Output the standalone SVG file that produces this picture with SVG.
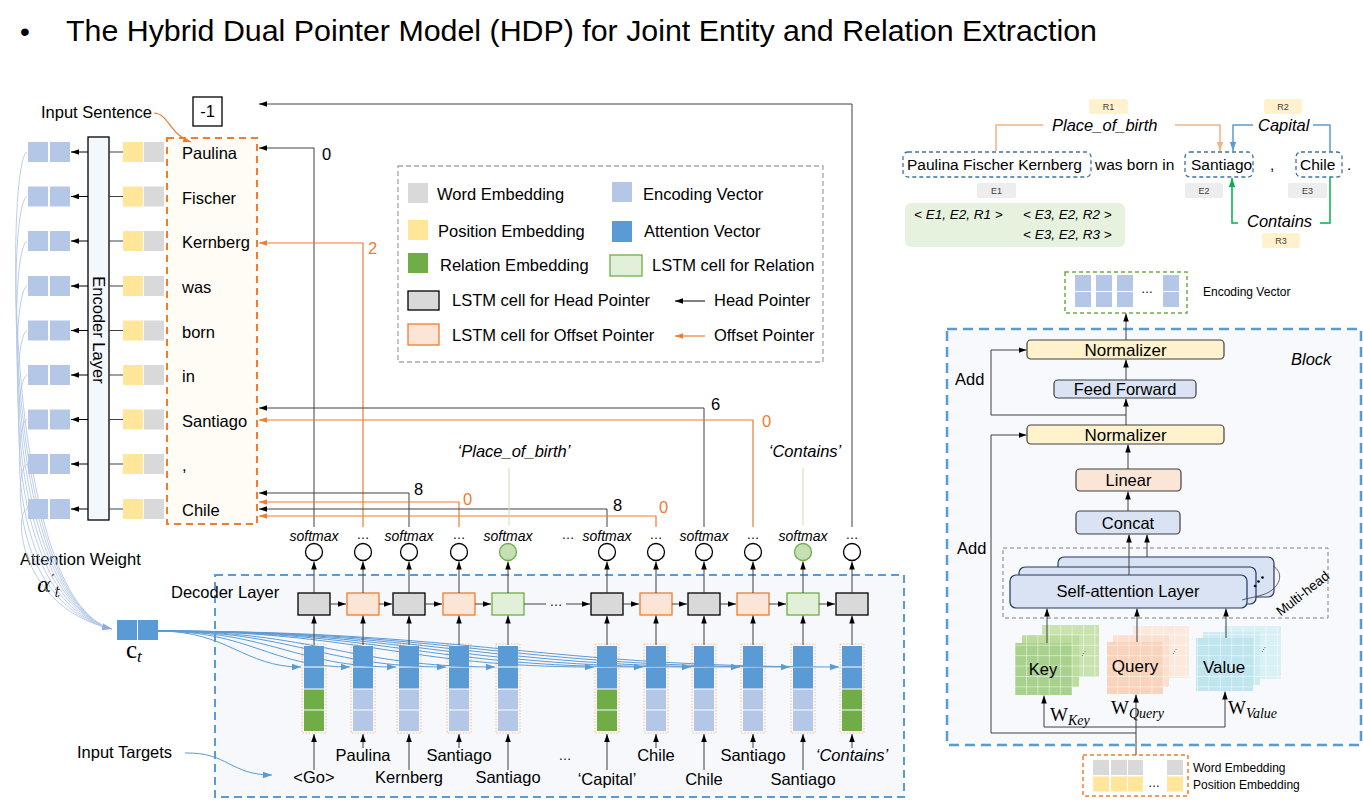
<svg xmlns="http://www.w3.org/2000/svg" width="1363" height="803" viewBox="0 0 1363 803">
<style>
text{font-family:"Liberation Sans",Arial,sans-serif;fill:#000}
.f16{font-size:16.5px}
.f14{font-size:14px}
.f13{font-size:13.5px}
.f12{font-size:12px}
.f9{font-size:9px;fill:#404040}
.it{font-style:italic}
.mid{text-anchor:middle}
.serif{font-family:"Liberation Serif","DejaVu Serif",serif}
.dserif{font-family:"DejaVu Serif","Liberation Serif",serif}
.sm{font-size:14px;font-style:italic;text-anchor:middle}
.dots{font-size:13px;text-anchor:middle}
.in{font-size:16.5px;text-anchor:middle}
.k{stroke:#000;stroke-width:1;fill:none}
.kg{stroke:#404040;stroke-width:1;fill:none}
.o{stroke:#ed7d31;stroke-width:1.2;fill:none}
.enc{fill:#b4c7e7}
.att{fill:#5b9bd5}
.pos{fill:#ffe699}
.wrd{fill:#d9d9d9}
.rel{fill:#70ad47}
.ch{fill:#d9d9d9;stroke:#000;stroke-width:1.3}
.co{fill:#fbe5d6;stroke:#ed7d31;stroke-width:1.3}
.cg{fill:#e2f0d9;stroke:#70ad47;stroke-width:1.3}
.circ{fill:#fff;stroke:#000;stroke-width:1.3}
.circg{fill:#c5e0b4;stroke:#70ad47;stroke-width:1.3}
.sep{stroke:#fff;stroke-width:1.2;fill:none}
.dot{fill:none;stroke:#f4b183;stroke-width:0.8;stroke-dasharray:1.5 1.5}
.bx{stroke:#404040;stroke-width:1.2}
.ebox{fill:#ededed}
.rbox{fill:#fff2cc}
.ent{fill:none;stroke:#41719c;stroke-width:1.3;stroke-dasharray:4 3}
.att-c{fill:none;stroke:#b4c7e7;stroke-width:0.9}
.ctx-c{fill:none;stroke:#5b9bd5;stroke-width:1}
.s15{font-size:15.5px}
</style>
<defs>
<marker id="ak" viewBox="0 0 10 10" refX="10" refY="5" markerWidth="8" markerHeight="8" markerUnits="userSpaceOnUse" orient="auto"><path d="M0,1.5L10,5L0,8.5z" fill="#000"/></marker>
<marker id="ao" viewBox="0 0 10 10" refX="10" refY="5" markerWidth="8" markerHeight="8" markerUnits="userSpaceOnUse" orient="auto"><path d="M0,1.5L10,5L0,8.5z" fill="#ed7d31"/></marker>
<marker id="ao2" viewBox="0 0 10 10" refX="10" refY="5" markerWidth="9" markerHeight="9" markerUnits="userSpaceOnUse" orient="auto"><path d="M0,1.5L10,5L0,8.5z" fill="#f4b183"/></marker>
<marker id="ab" viewBox="0 0 10 10" refX="10" refY="5" markerWidth="9" markerHeight="9" markerUnits="userSpaceOnUse" orient="auto"><path d="M0,1.5L10,5L0,8.5z" fill="#5b9bd5"/></marker>
<marker id="al" viewBox="0 0 10 10" refX="10" refY="5" markerWidth="10" markerHeight="10" markerUnits="userSpaceOnUse" orient="auto"><path d="M0,1.5L10,5L0,8.5z" fill="#8faadc"/></marker>
<marker id="ag" viewBox="0 0 10 10" refX="10" refY="5" markerWidth="9" markerHeight="9" markerUnits="userSpaceOnUse" orient="auto"><path d="M0,1.5L10,5L0,8.5z" fill="#00b050"/></marker>
<pattern id="grid" width="11.4" height="10.4" patternUnits="userSpaceOnUse"><path d="M0,0H11.4M0,0V10.4" stroke="#fff" stroke-width="0.9" fill="none"/></pattern>
</defs>

<rect width="1363" height="803" fill="#fff"/>

<g id="title">
<text x="20" y="41" style="font-size:28px">•</text>
<text x="66" y="41" style="font-size:30px" textLength="1031" lengthAdjust="spacingAndGlyphs">The Hybrid Dual Pointer Model (HDP) for Joint Entity and Relation Extraction</text>
</g>

<g id="decoder-layer">
<rect x="215" y="575" width="689" height="222" fill="#f6f8fc" stroke="#5b9bd5" stroke-width="2" stroke-dasharray="8 5"/>
<text x="171" y="598" class="f16">Decoder Layer</text>
</g>

<g id="input-sentence">
<rect x="167" y="138" width="90" height="386" fill="#fffbf5" stroke="#ed7d31" stroke-width="2" stroke-dasharray="7 5"/>
<text x="41" y="118" class="f16">Input Sentence</text>
<text x="182" y="159" class="f16">Paulina</text>
<text x="182" y="203.5" class="f16">Fischer</text>
<text x="182" y="248" class="f16">Kernberg</text>
<text x="182" y="293" class="f16">was</text>
<text x="182" y="337.5" class="f16">born</text>
<text x="182" y="382" class="f16">in</text>
<text x="182" y="426.5" class="f16">Santiago</text>
<text x="182" y="471" class="f16">,</text>
<text x="182" y="516" class="f16">Chile</text>
</g>

<g id="minus-one">
<rect x="193" y="97" width="29" height="29" fill="#fff" stroke="#000" stroke-width="1.3"/>
<text x="207.5" y="117" class="f16 mid">-1</text>
</g>

<g id="encoder-layer">
<rect x="88" y="137" width="21" height="383" fill="#f4f7fc" stroke="#000" stroke-width="1.3"/>
<text x="98.5" y="336" class="f16 mid" transform="rotate(90 98.5 330)">Encoder Layer</text>
</g>

<g id="encoding-vectors">
<rect x="28" y="142" width="20" height="20" class="enc"/><rect x="50" y="142" width="20" height="20" class="enc"/>
<rect x="28" y="186.5" width="20" height="20" class="enc"/><rect x="50" y="186.5" width="20" height="20" class="enc"/>
<rect x="28" y="231" width="20" height="20" class="enc"/><rect x="50" y="231" width="20" height="20" class="enc"/>
<rect x="28" y="276" width="20" height="20" class="enc"/><rect x="50" y="276" width="20" height="20" class="enc"/>
<rect x="28" y="320.5" width="20" height="20" class="enc"/><rect x="50" y="320.5" width="20" height="20" class="enc"/>
<rect x="28" y="365" width="20" height="20" class="enc"/><rect x="50" y="365" width="20" height="20" class="enc"/>
<rect x="28" y="409.5" width="20" height="20" class="enc"/><rect x="50" y="409.5" width="20" height="20" class="enc"/>
<rect x="28" y="454" width="20" height="20" class="enc"/><rect x="50" y="454" width="20" height="20" class="enc"/>
<rect x="28" y="499" width="20" height="20" class="enc"/><rect x="50" y="499" width="20" height="20" class="enc"/>
</g>

<g id="input-embeddings">
<rect x="123" y="142" width="20" height="20" class="pos"/><rect x="144" y="142" width="20" height="20" class="wrd"/>
<rect x="123" y="186.5" width="20" height="20" class="pos"/><rect x="144" y="186.5" width="20" height="20" class="wrd"/>
<rect x="123" y="231" width="20" height="20" class="pos"/><rect x="144" y="231" width="20" height="20" class="wrd"/>
<rect x="123" y="276" width="20" height="20" class="pos"/><rect x="144" y="276" width="20" height="20" class="wrd"/>
<rect x="123" y="320.5" width="20" height="20" class="pos"/><rect x="144" y="320.5" width="20" height="20" class="wrd"/>
<rect x="123" y="365" width="20" height="20" class="pos"/><rect x="144" y="365" width="20" height="20" class="wrd"/>
<rect x="123" y="409.5" width="20" height="20" class="pos"/><rect x="144" y="409.5" width="20" height="20" class="wrd"/>
<rect x="123" y="454" width="20" height="20" class="pos"/><rect x="144" y="454" width="20" height="20" class="wrd"/>
<rect x="123" y="499" width="20" height="20" class="pos"/><rect x="144" y="499" width="20" height="20" class="wrd"/>
</g>

<g id="context-vector">
<rect x="117" y="620" width="20" height="20" class="att"/><rect x="138" y="620" width="20" height="20" class="att"/>
<text x="126" y="658" class="serif" style="font-size:25px">c<tspan class="it" style="font-size:17px" dy="4">t</tspan></text>
<text x="20" y="565" class="f16">Attention Weight</text>
<text x="37" y="592" class="dserif it" style="font-size:21px">α<tspan style="font-size:15px;font-style:normal" dy="-7">′</tspan><tspan style="font-size:14px" dy="12">t</tspan></text>
<text x="77" y="758" class="f16">Input Targets</text>
</g>

<g id="legend">
<rect x="398" y="166" width="425" height="196" fill="#fff" stroke="#a6a6a6" stroke-width="1.3" stroke-dasharray="5 3"/>
<rect x="408" y="183" width="20" height="20" class="wrd"/><text x="437" y="200" class="f16">Word Embedding</text>
<rect x="612" y="182" width="20" height="20" class="enc"/><text x="643" y="200" class="f16">Encoding Vector</text>
<rect x="408" y="220" width="20" height="20" class="pos"/><text x="438" y="237" class="f16">Position Embedding</text>
<rect x="612" y="221" width="20" height="21" class="att"/><text x="644" y="237" class="f16">Attention Vector</text>
<rect x="408" y="253" width="20" height="20" class="rel"/><text x="440" y="271" class="f16">Relation Embedding</text>
<rect x="610" y="255" width="32" height="21" class="cg"/><text x="652" y="271" class="f16">LSTM cell for Relation</text>
<rect x="408" y="291" width="31" height="19" class="ch"/><text x="452" y="306" class="f16">LSTM cell for Head Pointer</text>
<path d="M705,301H675" class="k" marker-end="url(#ak)"/><text x="714" y="306" class="f16">Head Pointer</text>
<rect x="408" y="324" width="31" height="21" class="co"/><text x="452" y="341" class="f16">LSTM cell for Offset Pointer</text>
<path d="M705,336H675" class="o" marker-end="url(#ao)"/><text x="714" y="341" class="f16">Offset Pointer</text>
</g>

<g id="step1">
<text x="314" y="541" class="sm">softmax</text>
<circle cx="314" cy="552" r="8.5" class="circ"/>
<rect x="298" y="593" width="32" height="22" class="ch"/>
<rect x="302" y="644" width="24" height="89" class="dot"/>
<rect x="304" y="646" width="20" height="43" class="att"/><rect x="304" y="689" width="20" height="42" class="rel"/>
<path d="M304,667H324M304,689H324M304,710H324" class="sep"/>
<text x="314" y="783" class="in">&lt;Go&gt;</text>
</g>
<g id="step2">
<text x="363" y="539" class="dots">…</text>
<circle cx="363" cy="552" r="8.5" class="circ"/>
<rect x="347" y="593" width="32" height="22" class="co"/>
<rect x="351" y="644" width="24" height="89" class="dot"/>
<rect x="353" y="646" width="20" height="43" class="att"/><rect x="353" y="689" width="20" height="42" class="enc"/>
<path d="M353,667H373M353,689H373M353,710H373" class="sep"/>
<text x="363" y="761" class="in">Paulina</text>
</g>
<g id="step3">
<text x="409" y="541" class="sm">softmax</text>
<circle cx="409" cy="552" r="8.5" class="circ"/>
<rect x="393" y="593" width="32" height="22" class="ch"/>
<rect x="397" y="644" width="24" height="89" class="dot"/>
<rect x="399" y="646" width="20" height="43" class="att"/><rect x="399" y="689" width="20" height="42" class="enc"/>
<path d="M399,667H419M399,689H419M399,710H419" class="sep"/>
<text x="409" y="783" class="in">Kernberg</text>
</g>
<g id="step4">
<text x="459" y="539" class="dots">…</text>
<circle cx="459" cy="552" r="8.5" class="circ"/>
<rect x="443" y="593" width="32" height="22" class="co"/>
<rect x="447" y="644" width="24" height="89" class="dot"/>
<rect x="449" y="646" width="20" height="43" class="att"/><rect x="449" y="689" width="20" height="42" class="enc"/>
<path d="M449,667H469M449,689H469M449,710H469" class="sep"/>
<text x="459" y="761" class="in">Santiago</text>
</g>
<g id="step5">
<text x="508" y="541" class="sm">softmax</text>
<circle cx="508" cy="552" r="8.5" class="circg"/>
<rect x="492" y="593" width="32" height="22" class="cg"/>
<rect x="496" y="644" width="24" height="89" class="dot"/>
<rect x="498" y="646" width="20" height="43" class="att"/><rect x="498" y="689" width="20" height="42" class="enc"/>
<path d="M498,667H518M498,689H518M498,710H518" class="sep"/>
<text x="508" y="783" class="in">Santiago</text>
</g>
<g id="gap">
<text x="556" y="606" class="dots">…</text>
<text x="568" y="539" class="dots">…</text>
<text x="565" y="760" class="dots">…</text>
</g>
<g id="step6">
<text x="607" y="541" class="sm">softmax</text>
<circle cx="607" cy="552" r="8.5" class="circ"/>
<rect x="591" y="593" width="32" height="22" class="ch"/>
<rect x="595" y="644" width="24" height="89" class="dot"/>
<rect x="597" y="646" width="20" height="43" class="att"/><rect x="597" y="689" width="20" height="42" class="rel"/>
<path d="M597,667H617M597,689H617M597,710H617" class="sep"/>
<text x="607" y="785" class="in">‘Capital’</text>
</g>
<g id="step7">
<text x="656" y="539" class="dots">…</text>
<circle cx="656" cy="552" r="8.5" class="circ"/>
<rect x="640" y="593" width="32" height="22" class="co"/>
<rect x="644" y="644" width="24" height="89" class="dot"/>
<rect x="646" y="646" width="20" height="43" class="att"/><rect x="646" y="689" width="20" height="42" class="enc"/>
<path d="M646,667H666M646,689H666M646,710H666" class="sep"/>
<text x="656" y="761" class="in">Chile</text>
</g>
<g id="step8">
<text x="704" y="541" class="sm">softmax</text>
<circle cx="704" cy="552" r="8.5" class="circ"/>
<rect x="688" y="593" width="32" height="22" class="ch"/>
<rect x="692" y="644" width="24" height="89" class="dot"/>
<rect x="694" y="646" width="20" height="43" class="att"/><rect x="694" y="689" width="20" height="42" class="enc"/>
<path d="M694,667H714M694,689H714M694,710H714" class="sep"/>
<text x="704" y="785" class="in">Chile</text>
</g>
<g id="step9">
<text x="753" y="539" class="dots">…</text>
<circle cx="753" cy="552" r="8.5" class="circ"/>
<rect x="737" y="593" width="32" height="22" class="co"/>
<rect x="741" y="644" width="24" height="89" class="dot"/>
<rect x="743" y="646" width="20" height="43" class="att"/><rect x="743" y="689" width="20" height="42" class="enc"/>
<path d="M743,667H763M743,689H763M743,710H763" class="sep"/>
<text x="753" y="761" class="in">Santiago</text>
</g>
<g id="step10">
<text x="803" y="541" class="sm">softmax</text>
<circle cx="803" cy="552" r="8.5" class="circg"/>
<rect x="787" y="593" width="32" height="22" class="cg"/>
<rect x="791" y="644" width="24" height="89" class="dot"/>
<rect x="793" y="646" width="20" height="43" class="att"/><rect x="793" y="689" width="20" height="42" class="enc"/>
<path d="M793,667H813M793,689H813M793,710H813" class="sep"/>
<text x="803" y="785" class="in">Santiago</text>
</g>
<g id="step11">
<text x="852" y="539" class="dots">…</text>
<circle cx="852" cy="552" r="8.5" class="circ"/>
<rect x="836" y="593" width="32" height="22" class="ch"/>
<rect x="840" y="644" width="24" height="89" class="dot"/>
<rect x="842" y="646" width="20" height="43" class="att"/><rect x="842" y="689" width="20" height="42" class="rel"/>
<path d="M842,667H862M842,689H862M842,710H862" class="sep"/>
<text x="852" y="761" class="in it">‘Contains’</text>
</g>

<g id="relation-labels">
<text x="514" y="457" class="f16 it mid">‘Place_of_birth’</text>
<text x="805" y="457" class="f16 it mid">‘Contains’</text>
</g>

<g id="connectors">
<path d="M88,152H71" class="k" marker-end="url(#ak)"/>
<path d="M88,196.5H71" class="k" marker-end="url(#ak)"/>
<path d="M88,241H71" class="k" marker-end="url(#ak)"/>
<path d="M88,286H71" class="k" marker-end="url(#ak)"/>
<path d="M88,330.5H71" class="k" marker-end="url(#ak)"/>
<path d="M88,375H71" class="k" marker-end="url(#ak)"/>
<path d="M88,419.5H71" class="k" marker-end="url(#ak)"/>
<path d="M88,464H71" class="k" marker-end="url(#ak)"/>
<path d="M88,509H71" class="k" marker-end="url(#ak)"/>
<path d="M109,152H123M109,196.5H123M109,241H123M109,286H123M109,330.5H123M109,375H123M109,419.5H123M109,464H123M109,509H123" class="kg"/>
<path d="M154,113C168,113 170,135 191,142" class="o" marker-end="url(#ao)"/>
<path d="M27,152C6,160 4,600 112,629" class="att-c"/>
<path d="M27,196.5C6,204 5,600 112,629" class="att-c"/>
<path d="M27,241C7,248 6,600 112,629" class="att-c"/>
<path d="M27,286C8,293 7,600 112,629" class="att-c"/>
<path d="M27,330.5C9,337 8,600 112,629" class="att-c"/>
<path d="M27,375C10,381 10,602 112,629" class="att-c"/>
<path d="M27,419.5C11,425 12,604 112,629" class="att-c"/>
<path d="M27,464C12,469 15,606 112,629" class="att-c"/>
<path d="M27,509C13,513 20,608 112,629" class="att-c" marker-end="url(#al)"/>
<path d="M158,631C228,631 244,667 301,667" class="ctx-c" marker-end="url(#ab)"/>
<path d="M158,631C250,631 271,667 350,667" class="ctx-c" marker-end="url(#ab)"/>
<path d="M158,631C271,631 296,667 396,667" class="ctx-c" marker-end="url(#ab)"/>
<path d="M158,631C293,631 324,667 446,667" class="ctx-c" marker-end="url(#ab)"/>
<path d="M158,631C315,631 350,667 495,667" class="ctx-c" marker-end="url(#ab)"/>
<path d="M158,631C360,631 405,667 594,667" class="ctx-c" marker-end="url(#ab)"/>
<path d="M158,631C382,631 432,667 643,667" class="ctx-c" marker-end="url(#ab)"/>
<path d="M158,631C404,631 458,667 691,667" class="ctx-c" marker-end="url(#ab)"/>
<path d="M158,631C426,631 485,667 740,667" class="ctx-c" marker-end="url(#ab)"/>
<path d="M158,631C448,631 513,667 790,667" class="ctx-c" marker-end="url(#ab)"/>
<path d="M158,631C470,631 540,667 839,667" class="ctx-c" marker-end="url(#ab)"/>
<path d="M185,753C228,752 230,775 272,775" class="ctx-c" marker-end="url(#ab)"/>
<path d="M314,645V615.5" class="kg" marker-end="url(#ak)"/>
<path d="M363,645V615.5" class="kg" marker-end="url(#ak)"/>
<path d="M409,645V615.5" class="kg" marker-end="url(#ak)"/>
<path d="M459,645V615.5" class="kg" marker-end="url(#ak)"/>
<path d="M508,645V615.5" class="kg" marker-end="url(#ak)"/>
<path d="M607,645V615.5" class="kg" marker-end="url(#ak)"/>
<path d="M656,645V615.5" class="kg" marker-end="url(#ak)"/>
<path d="M704,645V615.5" class="kg" marker-end="url(#ak)"/>
<path d="M753,645V615.5" class="kg" marker-end="url(#ak)"/>
<path d="M803,645V615.5" class="kg" marker-end="url(#ak)"/>
<path d="M852,645V615.5" class="kg" marker-end="url(#ak)"/>
<path d="M314,593V561.5" class="kg" marker-end="url(#ak)"/>
<path d="M363,593V561.5" class="kg" marker-end="url(#ak)"/>
<path d="M409,593V561.5" class="kg" marker-end="url(#ak)"/>
<path d="M459,593V561.5" class="kg" marker-end="url(#ak)"/>
<path d="M508,593V561.5" class="kg" marker-end="url(#ak)"/>
<path d="M607,593V561.5" class="kg" marker-end="url(#ak)"/>
<path d="M656,593V561.5" class="kg" marker-end="url(#ak)"/>
<path d="M704,593V561.5" class="kg" marker-end="url(#ak)"/>
<path d="M753,593V561.5" class="kg" marker-end="url(#ak)"/>
<path d="M803,593V561.5" class="kg" marker-end="url(#ak)"/>
<path d="M852,593V561.5" class="kg" marker-end="url(#ak)"/>
<path d="M330,604H346" class="kg" marker-end="url(#ak)"/>
<path d="M379,604H392" class="kg" marker-end="url(#ak)"/>
<path d="M425,604H442" class="kg" marker-end="url(#ak)"/>
<path d="M475,604H491" class="kg" marker-end="url(#ak)"/>
<path d="M524,604H546" class="kg"/>
<path d="M566,604H590" class="kg" marker-end="url(#ak)"/>
<path d="M623,604H639" class="kg" marker-end="url(#ak)"/>
<path d="M672,604H687" class="kg" marker-end="url(#ak)"/>
<path d="M720,604H736" class="kg" marker-end="url(#ak)"/>
<path d="M769,604H786" class="kg" marker-end="url(#ak)"/>
<path d="M819,604H835" class="kg" marker-end="url(#ak)"/>
<path d="M314,770V734" class="kg" marker-end="url(#ak)"/>
<path d="M363,748V734" class="kg" marker-end="url(#ak)"/>
<path d="M409,770V734" class="kg" marker-end="url(#ak)"/>
<path d="M459,748V734" class="kg" marker-end="url(#ak)"/>
<path d="M508,770V734" class="kg" marker-end="url(#ak)"/>
<path d="M607,770V734" class="kg" marker-end="url(#ak)"/>
<path d="M656,748V734" class="kg" marker-end="url(#ak)"/>
<path d="M704,770V734" class="kg" marker-end="url(#ak)"/>
<path d="M753,748V734" class="kg" marker-end="url(#ak)"/>
<path d="M803,770V734" class="kg" marker-end="url(#ak)"/>
<path d="M852,748V734" class="kg" marker-end="url(#ak)"/>
<path d="M852,527V104H259" class="kg" marker-end="url(#ak)"/>
<path d="M314,527V148H259" class="kg" marker-end="url(#ak)"/>
<path d="M363,527V243H259" class="o" marker-end="url(#ao)"/>
<path d="M704,527V408H259" class="kg" marker-end="url(#ak)"/>
<path d="M753,527V420H259" class="o" marker-end="url(#ao)"/>
<path d="M409,527V493H259" class="kg" marker-end="url(#ak)"/>
<path d="M459,527V502H259" class="o" marker-end="url(#ao)"/>
<path d="M607,527V509H259" class="kg" marker-end="url(#ak)"/>
<path d="M656,527V516H259" class="o" marker-end="url(#ao)"/>
<path d="M509,525V468M803,525V468" fill="none" stroke="#c5e0b4" stroke-width="1"/>
</g>

<g id="pointer-labels">
<text x="322" y="160" class="f16">0</text>
<text x="368" y="254" class="f16" style="fill:#ed7d31">2</text>
<text x="711" y="410" class="f16">6</text>
<text x="762" y="427" class="f16" style="fill:#ed7d31">0</text>
<text x="414" y="495" class="f16">8</text>
<text x="463" y="505" class="f16" style="fill:#ed7d31">0</text>
<text x="613" y="511" class="f16">8</text>
<text x="659" y="513" class="f16" style="fill:#ed7d31">0</text>
</g>

<g id="example">
<rect x="1089" y="99" width="39" height="15" rx="2" class="rbox"/><text x="1108.5" y="110" class="f9 mid">R1</text>
<rect x="1264" y="99" width="38" height="15" rx="2" class="rbox"/><text x="1283" y="110" class="f9 mid">R2</text>
<rect x="1262" y="233" width="38" height="15" rx="2" class="rbox"/><text x="1281" y="244" class="f9 mid">R3</text>
<text x="1052" y="131" class="f16 it">Place_of_birth</text>
<text x="1258" y="131" class="f16 it">Capital</text>
<text x="1247" y="227" class="f16 it">Contains</text>
<path d="M996,151V125H1043" fill="none" stroke="#f4b183" stroke-width="1.5"/>
<path d="M1175,125H1220V151" fill="none" stroke="#f4b183" stroke-width="1.5" marker-end="url(#ao2)"/>
<path d="M1253,125H1233V151" fill="none" stroke="#5b9bd5" stroke-width="1.5" marker-end="url(#ab)"/>
<path d="M1313,125H1330V152" fill="none" stroke="#5b9bd5" stroke-width="1.5"/>
<path d="M1238,223H1232V178" fill="none" stroke="#00b050" stroke-width="1.5" marker-end="url(#ag)"/>
<path d="M1320,223H1330V177" fill="none" stroke="#00b050" stroke-width="1.5"/>
<rect x="903" y="152" width="188" height="25" rx="5" class="ent"/>
<rect x="1185" y="152" width="68" height="25" rx="5" class="ent"/>
<rect x="1296" y="152" width="46" height="25" rx="5" class="ent"/>
<text x="907" y="170" class="s15">Paulina Fischer Kernberg</text>
<text x="1095" y="170" class="s15">was born in</text>
<text x="1191" y="170" class="s15">Santiago</text>
<text x="1270" y="170" class="s15">,</text>
<text x="1300" y="170" class="s15">Chile</text>
<text x="1347" y="170" class="s15">.</text>
<rect x="977" y="183" width="39" height="15" rx="2" class="ebox"/><text x="996.5" y="194" class="f9 mid">E1</text>
<rect x="1185" y="183" width="38" height="15" rx="2" class="ebox"/><text x="1204" y="194" class="f9 mid">E2</text>
<rect x="1288" y="183" width="39" height="15" rx="2" class="ebox"/><text x="1307.5" y="194" class="f9 mid">E3</text>
<rect x="905" y="203" width="220" height="44" rx="6" fill="#e6f2de"/>
<text x="914" y="219" class="f13 it">&lt; E1, E2, R1 &gt;</text>
<text x="1023" y="219" class="f13 it">&lt; E3, E2, R2 &gt;</text>
<text x="1023" y="239" class="f13 it">&lt; E3, E2, R3 &gt;</text>
</g>

<g id="block">
<rect x="947" y="329" width="414" height="416" fill="#f7f9fc" stroke="#5b9bd5" stroke-width="2.5" stroke-dasharray="10 6"/>
<text x="1291" y="365" class="f16 it">Block</text>
<text x="955" y="385" class="f16">Add</text>
<text x="957" y="554" class="f16">Add</text>
</g>

<g id="encoding-vector-out">
<rect x="1065" y="272" width="122" height="41" fill="#fff" stroke="#70ad47" stroke-width="1.5" stroke-dasharray="4 3"/>
<rect x="1075" y="275" width="16" height="16" class="enc"/><rect x="1075" y="292" width="16" height="15" class="enc"/>
<rect x="1096" y="275" width="16" height="16" class="enc"/><rect x="1096" y="292" width="16" height="15" class="enc"/>
<rect x="1117" y="275" width="16" height="16" class="enc"/><rect x="1117" y="292" width="16" height="15" class="enc"/>
<rect x="1163" y="275" width="16" height="16" class="enc"/><rect x="1163" y="292" width="16" height="15" class="enc"/>
<text x="1147" y="293" class="f12 mid">…</text>
<text x="1203" y="296" class="f12">Encoding Vector</text>
</g>

<g id="normalizer-top">
<rect x="1027" y="340" width="197" height="19" rx="4" class="bx" fill="#fff2cc"/>
<text x="1125.5" y="355.5" class="mid" style="font-size:17px">Normalizer</text>
</g>
<g id="feed-forward">
<rect x="1054" y="380" width="142" height="18" rx="4" class="bx" fill="#dae3f3"/>
<text x="1125" y="395" class="f16 mid">Feed Forward</text>
</g>
<g id="normalizer-bottom">
<rect x="1027" y="425" width="197" height="19" rx="4" class="bx" fill="#fff2cc"/>
<text x="1125.5" y="440.5" class="mid" style="font-size:17px">Normalizer</text>
</g>
<g id="linear">
<rect x="1076" y="469" width="105" height="22" rx="4" class="bx" fill="#fbe5d6"/>
<text x="1128.5" y="486" class="f16 mid">Linear</text>
</g>
<g id="concat">
<rect x="1076" y="511" width="104" height="23" rx="4" class="bx" fill="#dae3f3"/>
<text x="1128" y="528.5" class="f16 mid">Concat</text>
</g>

<g id="self-attention">
<rect x="1003" y="548" width="325" height="70" fill="none" stroke="#7f7f7f" stroke-width="1" stroke-dasharray="4 3"/>
<rect x="1058" y="557" width="216" height="40" rx="6" fill="#dae3f3" stroke="#203864" stroke-width="1.2"/>
<rect x="1019" y="567" width="237" height="37" rx="6" fill="#dae3f3" stroke="#203864" stroke-width="1.2"/>
<rect x="1010" y="575" width="237" height="33" rx="6" fill="#dae3f3" stroke="#203864" stroke-width="1.2"/>
<text x="1128" y="597" class="f16 mid">Self-attention Layer</text>
<circle cx="1255" cy="586" r="1.3"/><circle cx="1258.5" cy="581.5" r="1.3"/><circle cx="1262.5" cy="577.5" r="1.3"/>
<path d="M1273,566C1283,572 1281,583 1272,590C1265,596 1252,597 1242,600" fill="none" stroke="#404040" stroke-width="0.8"/>
<text x="1303" y="598" class="f13 mid" transform="rotate(-38 1303 594)">Multi-head</text>
</g>

<g id="key">
<rect x="1042" y="625" width="57" height="52" fill="#c9e3b0"/><rect x="1042" y="625" width="57" height="52" fill="url(#grid)"/>
<rect x="1022" y="635" width="57" height="52" fill="#bcdc9c"/><rect x="1022" y="635" width="57" height="52" fill="url(#grid)"/>
<rect x="1015" y="643" width="57" height="52" fill="#a9d18e"/><rect x="1015" y="643" width="57" height="52" fill="url(#grid)"/>
<path d="M1082,656L1086,650" stroke="#595959" stroke-width="1" stroke-dasharray="1 1.5"/>
<text x="1043" y="675" class="f16 mid">Key</text>
</g>
<g id="query">
<rect x="1133" y="626" width="56" height="52" fill="#fce9dd"/><rect x="1133" y="626" width="56" height="52" fill="url(#grid)"/>
<rect x="1113" y="635" width="56" height="52" fill="#fbe0cf"/><rect x="1113" y="635" width="56" height="52" fill="url(#grid)"/>
<rect x="1107" y="642" width="56" height="52" fill="#f9d4bd"/><rect x="1107" y="642" width="56" height="52" fill="url(#grid)"/>
<path d="M1173,654L1177,648" stroke="#595959" stroke-width="1" stroke-dasharray="1 1.5"/>
<text x="1135" y="672" class="mid" style="font-size:17px">Query</text>
</g>
<g id="value">
<rect x="1224" y="626" width="57" height="53" fill="#d9f0f5"/><rect x="1224" y="626" width="57" height="53" fill="url(#grid)"/>
<rect x="1203" y="632" width="57" height="53" fill="#cdebf2"/><rect x="1203" y="632" width="57" height="53" fill="url(#grid)"/>
<rect x="1196" y="638" width="57" height="53" fill="#bfe5ee"/><rect x="1196" y="638" width="57" height="53" fill="url(#grid)"/>
<path d="M1262,652L1266,646" stroke="#595959" stroke-width="1" stroke-dasharray="1 1.5"/>
<text x="1224" y="673" class="mid" style="font-size:17px">Value</text>
</g>

<g id="weights">
<text x="1050" y="721" class="serif" style="font-size:19px">W<tspan class="it" style="font-size:14px" dy="4">Key</tspan></text>
<text x="1111" y="714" class="serif" style="font-size:19px">W<tspan class="it" style="font-size:14px" dy="4">Query</tspan></text>
<text x="1228" y="714" class="serif" style="font-size:19px">W<tspan class="it" style="font-size:14px" dy="4">Value</tspan></text>
</g>

<g id="input-embedding-block">
<rect x="1083" y="755" width="105" height="41" fill="#fff" stroke="#ed7d31" stroke-width="1.5" stroke-dasharray="4 3"/>
<rect x="1093" y="760" width="16" height="15" class="wrd"/><rect x="1093" y="776.5" width="16" height="15" class="pos"/>
<rect x="1111" y="760" width="16" height="15" class="wrd"/><rect x="1111" y="776.5" width="16" height="15" class="pos"/>
<rect x="1128" y="760" width="15" height="15" class="wrd"/><rect x="1128" y="776.5" width="15" height="15" class="pos"/>
<rect x="1167" y="760" width="16" height="15" class="wrd"/><rect x="1167" y="776.5" width="16" height="15" class="pos"/>
<text x="1154" y="787" class="f12 mid">…</text>
<text x="1193" y="772" class="f12">Word Embedding</text>
<text x="1193" y="789" class="f12">Position Embedding</text>
</g>

<g id="block-connectors">
<path d="M1126,340V313.5" class="kg" marker-end="url(#ak)"/>
<path d="M1126,380V359.5" class="kg" marker-end="url(#ak)"/>
<path d="M1126,425V398.5" class="kg" marker-end="url(#ak)"/>
<path d="M1128,469V444.5" class="kg" marker-end="url(#ak)"/>
<path d="M1128,511V491.5" class="kg" marker-end="url(#ak)"/>
<path d="M1129,575V534.5" class="kg" marker-end="url(#ak)"/>
<path d="M1147,557V534.5" class="kg" marker-end="url(#ak)"/>
<path d="M1126,415H991V350H1026.5" class="kg" marker-end="url(#ak)"/>
<path d="M1136,733H991V435H1026.5" class="kg" marker-end="url(#ak)"/>
<path d="M1047,643V608.5" class="kg" marker-end="url(#ak)"/>
<path d="M1137,642V608.5" class="kg" marker-end="url(#ak)"/>
<path d="M1226,638V608.5" class="kg" marker-end="url(#ak)"/>
<path d="M1136,755V694.5" class="kg" marker-end="url(#ak)"/>
<path d="M1044,727H1225" class="kg"/>
<path d="M1044,727V695.5" class="kg" marker-end="url(#ak)"/>
<path d="M1225,727V691.5" class="kg" marker-end="url(#ak)"/>
</g>
</svg>
